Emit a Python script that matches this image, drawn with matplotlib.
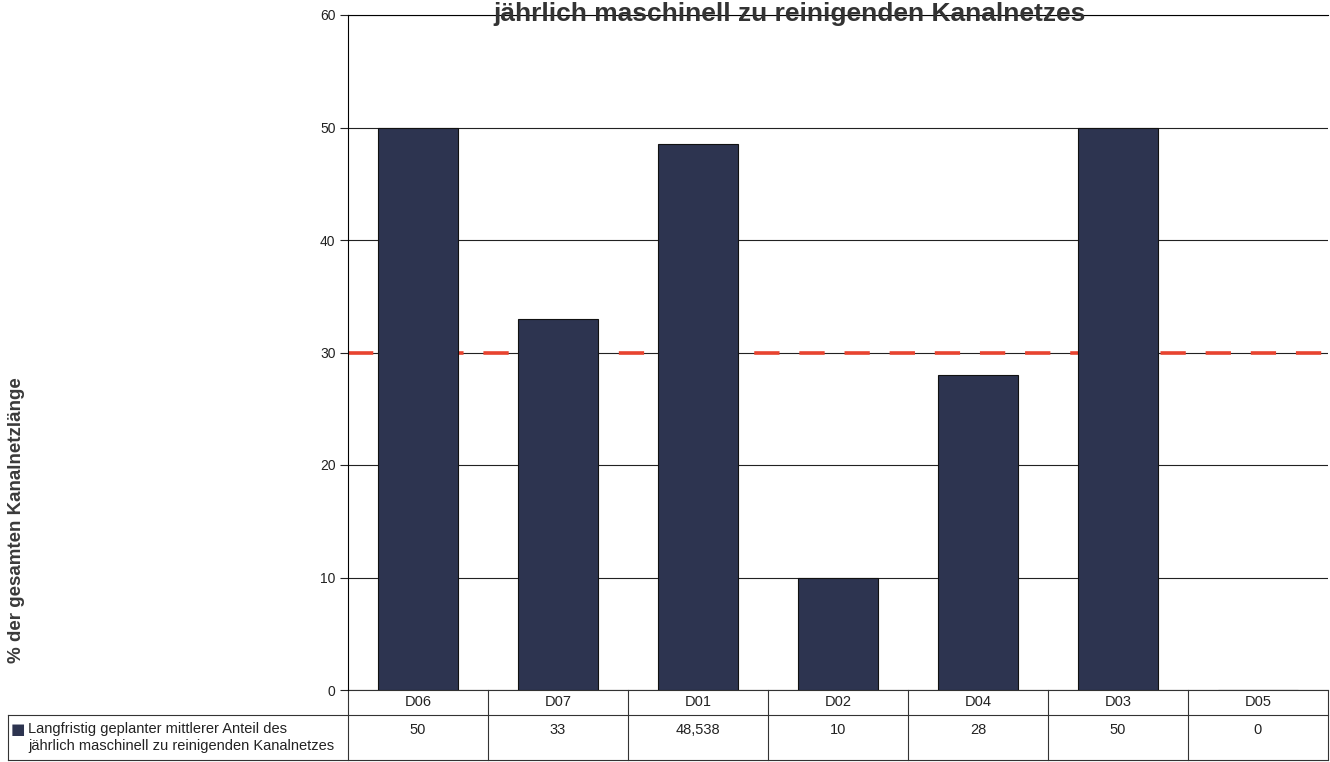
import numpy as np
import matplotlib
matplotlib.use('Agg')
import matplotlib.pyplot as plt
import matplotlib.transforms as mtransforms

plt.rcParams['font.family'] = ['Liberation Sans', 'DejaVu Sans']

# Daten
kategorien = ['D06', 'D07', 'D01', 'D02', 'D04', 'D03', 'D05']
werte = [50, 33, 48.538, 10, 28, 50, 0]
zielwert = 30
reihe_name = 'Langfristig geplanter mittlerer Anteil des\njährlich maschinell zu reinigenden Kanalnetzes'
titel = 'jährlich maschinell zu reinigenden Kanalnetzes'
y_label = '% der gesamten Kanalnetzlänge'
y_ticks = [0, 10, 20, 30, 40, 50, 60]

balken_farbe = '#2d3450'
text_farbe = '#222222'

fig = plt.figure(figsize=(13.3, 7.62), dpi=100)
ax = fig.add_axes([348/1330, 1-690/762, 980/1330, 675/762])

x = np.arange(len(kategorien))
ax.bar(x, werte, width=0.57, color=balken_farbe, edgecolor='#111111', linewidth=0.8, zorder=3)
ax.axhline(zielwert, color='#e8432f', lw=2.6, ls=(0, (7, 5.5)), zorder=2)

ax.set_xlim(-0.5, len(kategorien)-0.5)
ax.set_ylim(0, 60)
ax.set_yticks(y_ticks)
ax.tick_params(axis='y', labelsize=10, length=6, width=0.8, pad=3, colors=text_farbe)
ax.set_xticks([])
ax.yaxis.grid(True, color='#222222', lw=0.8, zorder=0)
ax.set_axisbelow(True)
for s in ['right', 'bottom']:
    ax.spines[s].set_visible(False)
ax.spines['left'].set_linewidth(0.8)
ax.spines['top'].set_linewidth(0.8)

#Tabelle unter dem Diagramm (x in Datenkoordinaten, y in Achsenkoordinaten)
trans = mtransforms.blended_transform_factory(ax.transData, ax.transAxes)
y0 = 0
y1 = -25/675
y2 = -70/675
xl = -0.5 - 340/140
xr = len(kategorien) - 0.5
lk = dict(color='#333333', lw=0.8, transform=trans, clip_on=False)
ax.plot([-0.5, xr], [y0, y0], **lk)
ax.plot([xl, xr], [y1, y1], **lk)
ax.plot([xl, xr], [y2, y2], **lk)
ax.plot([xl, xl], [y1, y2], **lk)
for i in range(len(kategorien)+1):
    ax.plot([i-0.5, i-0.5], [y0, y2], **lk)
for i, (k, w) in enumerate(zip(kategorien, werte)):
    ax.text(i, (y0+y1)/2, k, transform=trans, ha='center', va='center', fontsize=10.5, color=text_farbe)
    ax.text(i, y1-15/675, str(w).replace('.', ','), transform=trans, ha='center', va='center',
            fontsize=10.5, color=text_farbe)

# Legendeneintrag in der Tabelle
ax.text(xl + 3/140, y1-14/675, '■', transform=trans, fontsize=11,
        color=balken_farbe, va='center', ha='left', family=['DejaVu Sans'])
ax.text(xl + 20/140, (y1+y2)/2, reihe_name, transform=trans, fontsize=10.5,
        color=text_farbe, va='center', ha='left', linespacing=1.2)

fig.text(17/1330, 1-520/762, y_label, rotation=90, fontsize=13.5, fontweight='bold',
         color='#3a3a3a', ha='center', va='center')
fig.text(790/1330, 1-21/762, titel, fontsize=19, fontweight='bold',
         color='#333333', ha='center', va='baseline')

fig.savefig('out.png', dpi=100, facecolor='white')
